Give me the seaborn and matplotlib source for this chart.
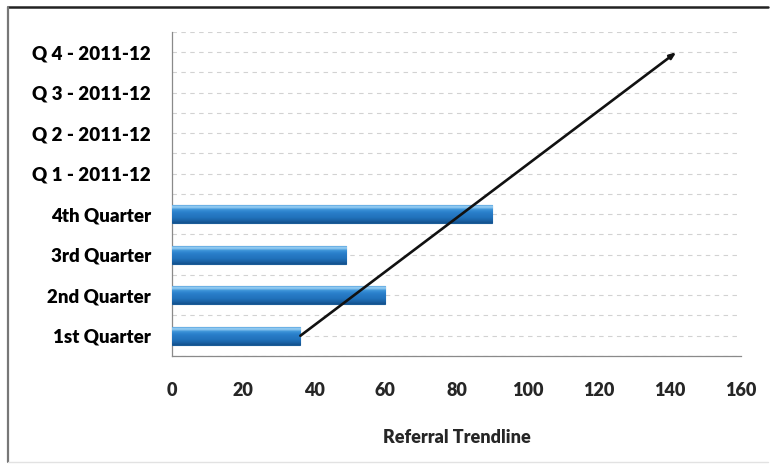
import numpy as np
import pandas as pd
import matplotlib
matplotlib.use("Agg")
import matplotlib.pyplot as plt
from matplotlib.colors import LinearSegmentedColormap
from matplotlib.lines import Line2D
import seaborn as sns

# Category axis, top to bottom
categories = ["Q 4 - 2011-12", "Q 3 - 2011-12", "Q 2 - 2011-12", "Q 1 - 2011-12",
              "4th Quarter", "3rd Quarter", "2nd Quarter", "1st Quarter"]
# Quarters with recorded referrals
quarters = ["1st Quarter", "2nd Quarter", "3rd Quarter", "4th Quarter"]
referrals = [36, 60, 49, 90]
x_ticks = [0, 20, 40, 60, 80, 100, 120, 140, 160]
x_label = "Referral Trendline"

sns.set_theme(style="white")
plt.rcParams["font.family"] = ["Lato", "DejaVu Sans"]
WEIGHT = "heavy"

df = pd.DataFrame({"quarter": quarters, "referrals": referrals})

fig = plt.figure(figsize=(7.72, 4.67), dpi=100)
ax = fig.add_axes([0.2228, 0.2377, 0.737, 0.6938])

sns.barplot(data=df, x="referrals", y="quarter", order=categories, orient="h",
            color="#2a7cc6", width=0.45, saturation=1, ax=ax, zorder=3)

# bevelled look: light rim on top, darker underside
bevel = LinearSegmentedColormap.from_list(
    "bevel", ["#3a8fd6", "#9fd3f5", "#3c93d8", "#2a80cb", "#2678c3",
              "#2172bb", "#1b64a8", "#14528e"])
grad = np.linspace(0, 1, 64).reshape(-1, 1)
for bar in ax.patches:
    x0, y0 = bar.get_x(), bar.get_y()
    w, h = bar.get_width(), bar.get_height()
    if not np.isfinite(w) or w == 0:
        continue
    im = ax.imshow(grad, cmap=bevel, aspect="auto", origin="upper",
                   extent=[x0, x0 + w, y0 + h, y0], zorder=4)
    im.set_clip_path(bar)
    bar.set_edgecolor("#1b5c98")
    bar.set_linewidth(0.8)

# linear trend through the recorded quarters, forecast four periods ahead
t = np.arange(len(referrals))
slope, intercept = np.polyfit(t, referrals, 1)
t_fore = np.array([0, len(categories) - 1])
trend_x = intercept + slope * t_fore
pos = {c: i for i, c in enumerate(categories)}
trend_y = pos["1st Quarter"] - t_fore
ax.annotate("", xy=(trend_x[1], trend_y[1]), xytext=(trend_x[0], trend_y[0]),
            arrowprops=dict(arrowstyle="-|>,head_length=0.3,head_width=0.12",
                            color="#111111", lw=1.9, shrinkA=0, shrinkB=0),
            zorder=6)

# horizontal gridlines at every half category
for yy in np.arange(-0.5, len(categories), 0.5):
    ax.axhline(yy, color="#d2d2d2", lw=0.8, ls=(0, (4, 4)), zorder=1)

ax.set_xlim(0, 160)
ax.set_ylim(len(categories) - 0.5, -0.5)
ax.set_xticks(x_ticks)
ax.set_xticklabels([str(v) for v in x_ticks], fontsize=13, fontweight=WEIGHT)
ax.set_yticks(range(len(categories)))
ax.set_yticklabels(categories, fontsize=13.5, fontweight=WEIGHT)
ax.set_ylabel("")
ax.set_xlabel(x_label, fontsize=13, fontweight=WEIGHT, labelpad=21)

# ticks at category boundaries on the value axis side
ax.set_yticks(np.arange(-0.5, len(categories), 1), minor=True)
ax.tick_params(axis="y", which="major", length=0, pad=15, colors="black")
ax.tick_params(axis="y", which="minor", length=4, width=0.8, color="#8a8a8a",
               direction="out")
ax.tick_params(axis="x", which="major", length=4, width=0.8, color="#8a8a8a",
               direction="out", pad=15)

for side in ["top", "right"]:
    ax.spines[side].set_visible(False)
for side in ["left", "bottom"]:
    ax.spines[side].set_color("#8a8a8a")
    ax.spines[side].set_linewidth(0.9)

# chart frame
frame = dict(transform=fig.transFigure, clip_on=False)
fig.add_artist(Line2D([0.0104, 0.995], [0.985, 0.985], color="#222222", lw=1.8, **frame))
fig.add_artist(Line2D([0.0104, 0.0104], [0.985, 0.011], color="#777777", lw=1.6, **frame))
fig.add_artist(Line2D([0.0104, 0.995], [0.011, 0.011], color="#e2e2e2", lw=1.0, **frame))

fig.savefig("out.png", dpi=100, facecolor="white")
